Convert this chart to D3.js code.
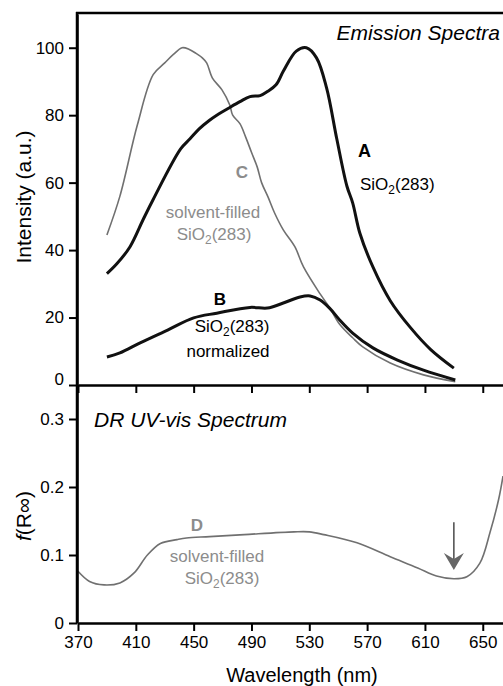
<!DOCTYPE html>
<html>
<head>
<meta charset="utf-8">
<script src="https://cdn.jsdelivr.net/npm/d3@7"></script>
<style>
  body { margin: 0; background: #fff; }
  svg { display: block; font-family: "Liberation Sans", Arial, Helvetica, sans-serif; }
</style>
</head>
<body>
<div id="chart"></div>
<script>
// wavelength ticks and axis ticks
var wavelengthTicks = [370, 410, 450, 490, 530, 570, 610, 650];
var intensityTicks = [0, 20, 40, 60, 80, 100];
var drTicks = [0, 0.1, 0.2, 0.3];

// A: SiO2(283) emission
var curveA_nm  = [390, 397, 406, 415, 422, 441, 447.5, 454, 461, 466, 475, 482, 489, 496, 501, 507, 512, 521, 528, 535, 542, 549, 556, 560, 565, 574, 586, 600, 614, 630];
var curveA_val = [33, 36, 41, 49, 55, 70, 73, 76, 78.5, 80, 82.3, 84, 85.5, 85.8, 87, 89, 93, 99, 100, 97, 88, 73, 59, 54, 45, 35, 25, 17, 10.5, 5];

// B: SiO2(283) normalized
var curveB_nm  = [390, 399, 413, 432, 450, 466, 489, 501, 512, 523.6, 530.6, 537.5, 544, 551, 560, 574, 591, 609, 631];
var curveB_val = [8.3, 9.5, 12.5, 16.3, 19.9, 21.3, 23, 22.8, 24.3, 26.1, 26.4, 25.2, 22.8, 19.3, 15.4, 11, 7.4, 4.4, 1.5];

// C: solvent-filled SiO2(283) emission
var curveC_nm  = [390, 399, 411, 422, 430, 436, 442, 447, 451, 456, 459, 463, 469.6, 475, 477, 482, 486, 490, 494, 497, 501.5, 506, 512, 520, 526, 537.5, 544, 551, 560, 567, 586, 609, 631];
var curveC_val = [44.5, 56, 77, 92, 95.5, 98, 100, 99.5, 98.5, 97, 95.5, 91, 87.5, 83, 80, 77.5, 73.5, 69, 64.6, 60, 55.7, 51, 46, 41, 35, 27, 23, 18, 14, 11.3, 6.5, 3, 1];

// D: DR UV-vis of solvent-filled SiO2(283)
var curveD_nm  = [370, 378, 388, 399, 409, 418, 427, 438.5, 445, 461, 485, 519.5, 530, 540, 563, 586, 605, 618, 630, 639, 648, 655, 661, 664];
var curveD_val = [0.076, 0.061, 0.056, 0.059, 0.074, 0.1, 0.117, 0.1226, 0.125, 0.127, 0.130, 0.134, 0.134, 0.13, 0.118, 0.0975, 0.081, 0.069, 0.065, 0.068, 0.088, 0.133, 0.182, 0.216];

var arrow_nm = 630;
var arrow_from = 0.148, arrow_to = 0.078;

var line_black = '#111';
var line_grey = '#707070';
var label_grey = '#8c8c8c';

var width = 503, height = 686;
var left = 77, right = 503;
var topTop = 14, topBottom = 385, botBottom = 623;

var svg = d3.select('#chart').append('svg')
    .attr('width', width).attr('height', height);

var x = d3.scaleLinear().domain([370, 664]).range([78, 503]);
var yTop = d3.scaleLinear().domain([0, 110]).range([topBottom, topTop]);
var yBot = d3.scaleLinear().domain([0, 0.35]).range([botBottom, topBottom]);

function zip(a, b) { return a.map(function(d, i) { return [d, b[i]]; }); }

var lineTop = d3.line().x(function(d) { return x(d[0]); }).y(function(d) { return yTop(d[1]); }).curve(d3.curveCatmullRom);
var lineBot = d3.line().x(function(d) { return x(d[0]); }).y(function(d) { return yBot(d[1]); }).curve(d3.curveCatmullRom);

// curves
svg.append('path').attr('d', lineTop(zip(curveC_nm, curveC_val)))
    .attr('fill', 'none').attr('stroke', line_grey).attr('stroke-width', 1.6);
svg.append('path').attr('d', lineTop(zip(curveA_nm, curveA_val)))
    .attr('fill', 'none').attr('stroke', line_black).attr('stroke-width', 3);
svg.append('path').attr('d', lineTop(zip(curveB_nm, curveB_val)))
    .attr('fill', 'none').attr('stroke', line_black).attr('stroke-width', 3);
svg.append('path').attr('d', lineBot(zip(curveD_nm, curveD_val)))
    .attr('fill', 'none').attr('stroke', line_grey).attr('stroke-width', 1.6);

// axes
function styleAxis(g) {
    g.select('.domain').attr('stroke', '#000').attr('stroke-width', 2.5);
    g.selectAll('.tick line').attr('stroke', '#000').attr('stroke-width', 2);
    g.selectAll('.tick text').attr('fill', '#000').attr('font-size', 17)
        .attr('font-family', '"Liberation Sans", Arial, sans-serif');
}

svg.append('g').attr('transform', 'translate(' + left + ',0)')
    .call(d3.axisLeft(yTop).tickValues(intensityTicks).tickSize(8).tickSizeOuter(0).tickPadding(5))
    .call(styleAxis)
    .call(function(g) { g.selectAll('.tick').filter(function(d) { return d === 0; }).select('text').attr('dy', '-0.05em'); });

svg.append('g').attr('transform', 'translate(' + left + ',0)')
    .call(d3.axisLeft(yBot).tickValues(drTicks).tickSize(8).tickSizeOuter(0).tickPadding(5)
        .tickFormat(function(d) { return d === 0 ? '0' : d.toFixed(1); }))
    .call(styleAxis);

svg.append('g').attr('transform', 'translate(0,' + topBottom + ')')
    .call(d3.axisBottom(x).tickValues(wavelengthTicks).tickSize(8).tickSizeOuter(0).tickFormat(''))
    .call(styleAxis);

svg.append('g').attr('transform', 'translate(0,' + botBottom + ')')
    .call(d3.axisBottom(x).tickValues(wavelengthTicks).tickSize(8).tickSizeOuter(0).tickPadding(5))
    .call(styleAxis);

// frame top
svg.append('line').attr('x1', left - 1).attr('x2', right).attr('y1', 13).attr('y2', 13)
    .attr('stroke', '#000').attr('stroke-width', 2.5);
svg.append('line').attr('x1', left).attr('x2', left).attr('y1', 12).attr('y2', botBottom)
    .attr('stroke', '#000').attr('stroke-width', 2.5);

// axis titles
svg.append('text').attr('x', 302).attr('y', 682).attr('text-anchor', 'middle')
    .attr('font-size', 20).text('Wavelength (nm)');
svg.append('text').attr('transform', 'translate(31,197) rotate(-90)').attr('text-anchor', 'middle')
    .attr('font-size', 21).text('Intensity (a.u.)');
var fr = svg.append('text').attr('transform', 'translate(31,516) rotate(-90)').attr('text-anchor', 'middle')
    .attr('font-size', 21);
fr.append('tspan').attr('font-style', 'italic').text('f');
fr.append('tspan').text('(R\u221E)');

// panel titles
svg.append('text').attr('x', 500).attr('y', 40).attr('text-anchor', 'end')
    .attr('font-size', 21).attr('font-style', 'italic').text('Emission Spectra');
svg.append('text').attr('x', 94).attr('y', 427)
    .attr('font-size', 21).attr('font-style', 'italic').text('DR UV-vis Spectrum');

function sio2(t) {
    t.append('tspan').text('SiO');
    t.append('tspan').attr('font-size', '70%').attr('dy', 4).text('2');
    t.append('tspan').attr('dy', -4).text('(283)');
}

// curve labels
svg.append('text').attr('x', 358).attr('y', 157).attr('font-size', 18).attr('font-weight', 'bold').text('A');
svg.append('text').attr('x', 360).attr('y', 190).attr('font-size', 17).call(sio2);

svg.append('text').attr('x', 242).attr('y', 178).attr('text-anchor', 'middle').attr('font-size', 17)
    .attr('font-weight', 'bold').attr('fill', label_grey).text('C');
svg.append('text').attr('x', 213).attr('y', 218).attr('text-anchor', 'middle').attr('font-size', 17)
    .attr('fill', label_grey).text('solvent-filled');
svg.append('text').attr('x', 214).attr('y', 240).attr('text-anchor', 'middle').attr('font-size', 17)
    .attr('fill', label_grey).call(sio2);

svg.append('text').attr('x', 220).attr('y', 305).attr('text-anchor', 'middle').attr('font-size', 17)
    .attr('font-weight', 'bold').text('B');
svg.append('text').attr('x', 232).attr('y', 332).attr('text-anchor', 'middle').attr('font-size', 17).call(sio2);
svg.append('text').attr('x', 228).attr('y', 357).attr('text-anchor', 'middle').attr('font-size', 17).text('normalized');

svg.append('text').attr('x', 197).attr('y', 531).attr('text-anchor', 'middle').attr('font-size', 17)
    .attr('font-weight', 'bold').attr('fill', label_grey).text('D');
svg.append('text').attr('x', 217).attr('y', 562).attr('text-anchor', 'middle').attr('font-size', 17)
    .attr('fill', label_grey).text('solvent-filled');
svg.append('text').attr('x', 222).attr('y', 584).attr('text-anchor', 'middle').attr('font-size', 17)
    .attr('fill', label_grey).call(sio2);

// arrow marking the minimum
var ax = x(arrow_nm), ay1 = yBot(arrow_from), ay2 = yBot(arrow_to);
svg.append('line').attr('x1', ax).attr('x2', ax).attr('y1', ay1).attr('y2', ay2 - 8)
    .attr('stroke', '#555').attr('stroke-width', 1.6);
svg.append('path')
    .attr('d', 'M' + (ax - 10) + ',' + (ay2 - 17) + ' L' + ax + ',' + ay2 + ' L' + (ax + 10) + ',' + (ay2 - 17) + ' L' + ax + ',' + (ay2 - 11) + ' Z')
    .attr('fill', '#666');
</script>
</body>
</html>
